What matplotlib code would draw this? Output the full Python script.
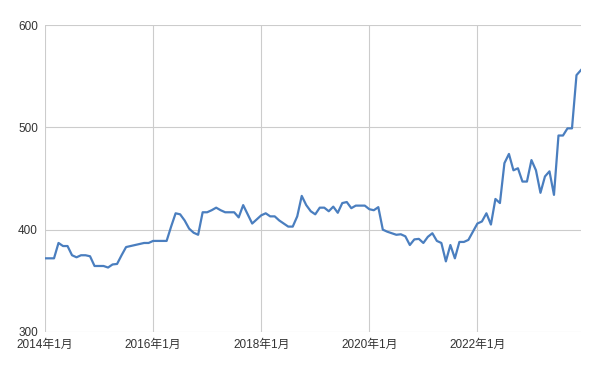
import matplotlib
matplotlib.use("Agg")
import matplotlib.pyplot as plt
import numpy as np

plt.rcParams["font.family"] = ["Liberation Sans", "Noto Sans CJK JP", "DejaVu Sans"]

# ── データ (2014年1月 〜 2023年12月, 月次) ────────────────────────────────
values = [
    372, 372, 372, 387, 384, 384, 375, 373, 375, 375, 374, 364.5,   # 2014
    364.5, 364.5, 363, 366, 366.5, 375, 383, 384, 385, 386, 387, 387,  # 2015
    389, 389, 389, 389, 403, 416, 415, 409, 401, 397, 395, 417,      # 2016
    417, 419, 421.5, 419, 417, 417, 417, 412, 424, 415, 406, 410,    # 2017
    414, 416, 413, 413, 409, 406, 403, 403, 413, 433, 424, 418,      # 2018
    415, 421.5, 421.5, 418, 422.5, 416.5, 426, 427, 421, 423.5, 423.5, 423.5,  # 2019
    420, 419, 422, 400, 398, 396.5, 395, 395.5, 393.5, 385, 390.5, 391,  # 2020
    387, 393, 396.5, 389, 387, 369, 385, 372, 388, 388, 390, 398,    # 2021
    406, 408, 416, 405, 430, 426, 465, 474, 458, 460, 447, 447,      # 2022
    468, 458, 436, 452, 457, 434, 492, 492, 499, 499, 551, 556,      # 2023
]
tick_months = [0, 24, 48, 72, 96]
tick_labels = ["2014年1月", "2016年1月", "2018年1月", "2020年1月", "2022年1月"]
y_ticks = [300, 400, 500, 600]

months = np.arange(len(values))

fig = plt.figure(figsize=(6, 3.71), dpi=100)
ax = fig.add_axes([45 / 600, 39 / 371, 536 / 600, 307 / 371])

ax.plot(months, values, color="#4a7ebf", linewidth=1.6, zorder=3)

ax.set_xlim(0, len(values) - 1)
ax.set_ylim(300, 600)
ax.set_xticks(tick_months)
ax.set_xticklabels(tick_labels)
ax.set_yticks(y_ticks)

ax.grid(True, color="#cccccc", linewidth=0.8)
ax.set_axisbelow(True)
for s in ax.spines.values():
    s.set_visible(False)
ax.tick_params(length=0, labelsize=8.5, labelcolor="#333333")
ax.tick_params(axis="x", pad=5)
ax.tick_params(axis="y", pad=5)

fig.savefig("out.png", dpi=100, facecolor="white")
